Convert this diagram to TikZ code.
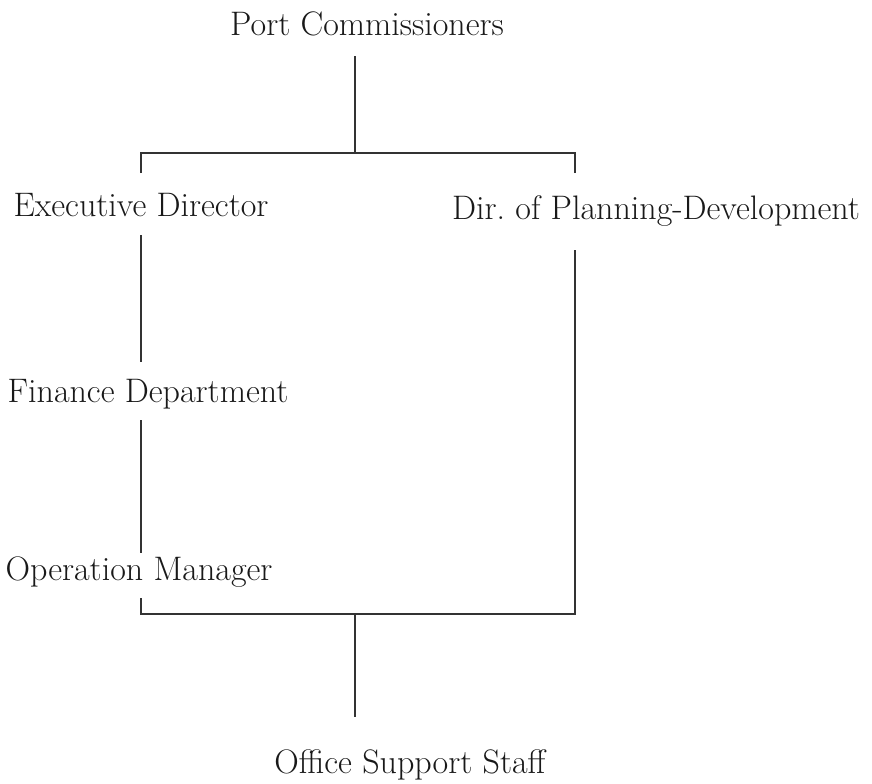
\documentclass[tikz,border=0pt]{standalone}
\usepackage{tikz}
\usetikzlibrary{positioning}
\usetikzlibrary{calc}

\begin{document}
\begin{tikzpicture}[x=0.75pt, y=-0.75pt,
    unit/.style={anchor=base, inner sep=0pt, text=black!90,
                 font=\fontsize{25.5}{28}\selectfont},
    link/.style={draw=black!80, line width=1.5pt}]
      \useasboundingbox (0,0) rectangle (872,783);
      \node[unit] (pc) at (367,35)  {Port Commissioners};
      \node[unit] (ed) at (141,216) {Executive Director};
      \node[unit] (dp) at (656,219) {Dir.\ of Planning-Development};
      \node[unit] (fd) at (148,402) {Finance Department};
      \node[unit] (om) at (139,580) {Operation Manager};
      \node[unit] (os) at (410,773) {Office Support Staff};
      \coordinate (jt) at (355,153);
      \coordinate (jr) at (575,153);
      \coordinate (jb) at (355,614);
      % top
      \draw[link, shorten >=15pt] (jt) -- (jt |- pc.south);
      \draw[link] (ed.north |- 0,173) |- (jt);
      \draw[link] (jr |- 0,173) -- (jr) -- (jt);
      % left chain
      \draw[link] (ed.south |- 0,235) -- (ed.south |- 0,362);
      \draw[link] (ed.south |- 0,420) -- (ed.south |- 0,553);
      % bottom
      \draw[link] (jr |- 0,250) |- (jb);
      \draw[link] (ed.south |- 0,598) |- (jb);
      \draw[link] (jb) -- (jb |- 0,717);
    \end{tikzpicture}
\end{document}
